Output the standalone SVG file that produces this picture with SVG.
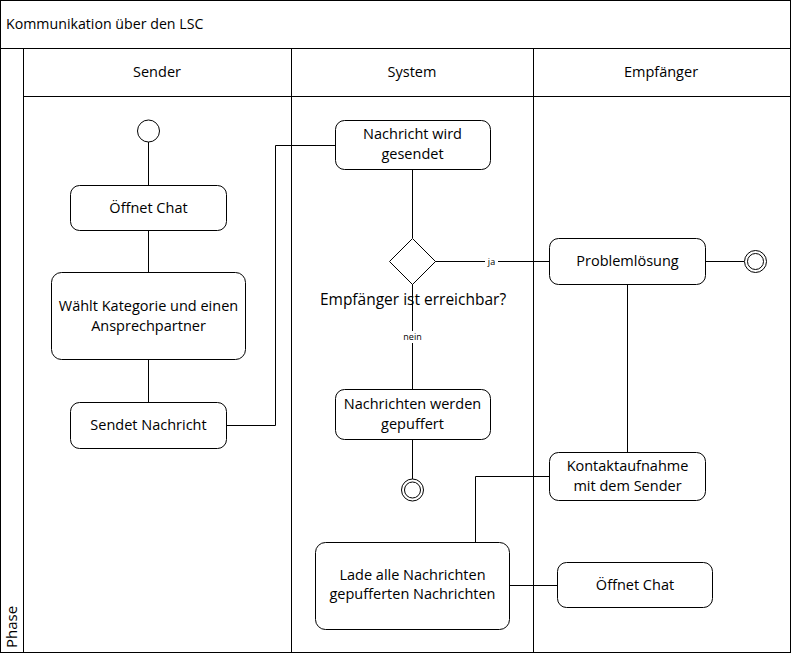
<svg xmlns="http://www.w3.org/2000/svg" width="792" height="654" viewBox="0 0 792 654">
<style>
.frame{fill:#fff;stroke:#000;stroke-width:1}
.node{fill:#fff;stroke:#000;stroke-width:1}
.t{font-family:"Open Sans","Noto Sans","Liberation Sans",sans-serif;font-size:14.5px;fill:#000;text-anchor:middle}
.lbl{font-family:"Open Sans","Noto Sans","Liberation Sans",sans-serif;font-size:9px;fill:#000;text-anchor:middle}
.c{fill:none;stroke:#000;stroke-width:1}
</style>
<rect width="792" height="654" fill="#fff"/>
<g id="pool">
<rect class="frame" x="0.5" y="0.5" width="790" height="652"/>
<line class="c" x1="0.5" y1="48.5" x2="790.5" y2="48.5"/>
<line class="c" x1="23.5" y1="48.5" x2="23.5" y2="652.5"/>
<line class="c" x1="23.5" y1="96.5" x2="790.5" y2="96.5"/>
<line class="c" x1="291.5" y1="48.5" x2="291.5" y2="652.5"/>
<line class="c" x1="533.5" y1="48.5" x2="533.5" y2="652.5"/>
<text x="6" y="29" style="font-family:'Open Sans','Noto Sans','Liberation Sans',sans-serif;font-size:14.2px">Kommunikation über den LSC</text>
<text class="t" x="157" y="77">Sender</text>
<text class="t" x="412" y="77">System</text>
<text class="t" x="661" y="77">Empfänger</text>
<text class="t" transform="translate(17,648) rotate(-90)" style="text-anchor:start;font-size:15px" x="0" y="0">Phase</text>
</g>
<g id="connectors">
<line class="c" x1="148.5" y1="142" x2="148.5" y2="185"/>
<line class="c" x1="148.5" y1="230" x2="148.5" y2="272"/>
<line class="c" x1="148.5" y1="359" x2="148.5" y2="402"/>
<polyline class="c" points="226,425.5 275.5,425.5 275.5,145.5 335,145.5"/>
<line class="c" x1="412.5" y1="169" x2="412.5" y2="238"/>
<line class="c" x1="435" y1="261.5" x2="549" y2="261.5"/>
<line class="c" x1="412.5" y1="284" x2="412.5" y2="389"/>
<line class="c" x1="412.5" y1="439" x2="412.5" y2="479"/>
<line class="c" x1="705" y1="261.5" x2="744" y2="261.5"/>
<line class="c" x1="627.5" y1="284" x2="627.5" y2="452"/>
<polyline class="c" points="549,476.5 475.5,476.5 475.5,542"/>
<line class="c" x1="509" y1="585.5" x2="557" y2="585.5"/>
<rect x="485" y="255" width="13" height="12" fill="#fff"/>
<text class="lbl" x="491.5" y="265">ja</text>
<rect x="401" y="331" width="23" height="12" fill="#fff"/>
<text class="lbl" x="412.5" y="340">nein</text>
</g>
<g id="start">
<circle class="node" cx="148.5" cy="131" r="11"/>
</g>
<g id="oeffnet-chat-sender">
<rect class="node" x="70.5" y="185.5" width="156" height="45" rx="9"/>
<text class="t" x="148.5" y="213">Öffnet Chat</text>
</g>
<g id="waehlt-kategorie">
<rect class="node" x="51.5" y="272.5" width="194" height="87" rx="10"/>
<text class="t" x="148.5" y="311">Wählt Kategorie und einen</text>
<text class="t" x="148.5" y="331">Ansprechpartner</text>
</g>
<g id="sendet-nachricht">
<rect class="node" x="70.5" y="402.5" width="156" height="46" rx="9"/>
<text class="t" x="148.5" y="430">Sendet Nachricht</text>
</g>
<g id="nachricht-gesendet">
<rect class="node" x="335.5" y="120.5" width="155" height="49" rx="9"/>
<text class="t" x="412.5" y="139">Nachricht wird</text>
<text class="t" x="412.5" y="159">gesendet</text>
</g>
<g id="decision">
<polygon class="node" points="412.5,238.5 435.5,261.5 412.5,284.5 389.5,261.5"/>
<text class="t" x="413" y="305" style="font-size:15.5px">Empfänger ist erreichbar?</text>
</g>
<g id="gepuffert">
<rect class="node" x="335.5" y="389.5" width="155" height="50" rx="9"/>
<text class="t" x="412.5" y="409">Nachrichten werden</text>
<text class="t" x="412.5" y="429">gepuffert</text>
</g>
<g id="end-system">
<circle class="node" cx="412.5" cy="490" r="11"/>
<circle class="node" cx="412.5" cy="490" r="8"/>
</g>
<g id="problemloesung">
<rect class="node" x="549.5" y="238.5" width="156" height="46" rx="9"/>
<text class="t" x="627.5" y="266">Problemlösung</text>
</g>
<g id="end-empfaenger">
<circle class="node" cx="755.5" cy="261.5" r="11"/>
<circle class="node" cx="755.5" cy="261.5" r="8"/>
</g>
<g id="kontaktaufnahme">
<rect class="node" x="549.5" y="452.5" width="156" height="48" rx="9"/>
<text class="t" x="627.5" y="471">Kontaktaufnahme</text>
<text class="t" x="627.5" y="491">mit dem Sender</text>
</g>
<g id="lade-nachrichten">
<rect class="node" x="315.5" y="542.5" width="194" height="87" rx="10"/>
<text class="t" x="412.5" y="580">Lade alle Nachrichten</text>
<text class="t" x="412.5" y="599">gepufferten Nachrichten</text>
</g>
<g id="oeffnet-chat-empfaenger">
<rect class="node" x="557.5" y="562.5" width="155" height="45" rx="9"/>
<text class="t" x="635" y="590">Öffnet Chat</text>
</g>
</svg>
